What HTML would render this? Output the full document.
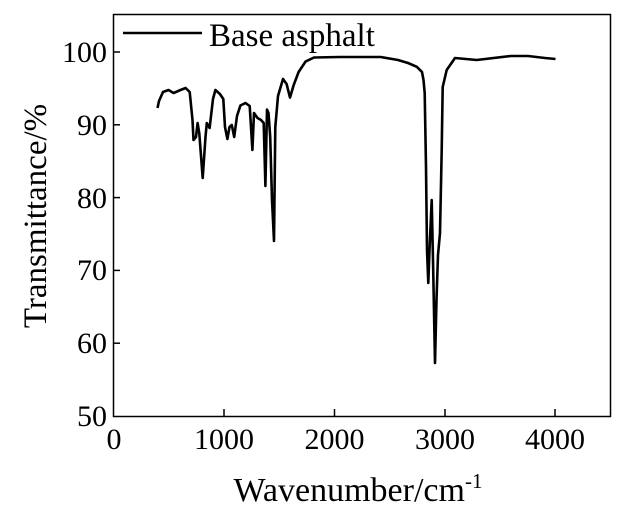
<!DOCTYPE html>
<html><head><style>body{margin:0;background:#fff}</style></head><body>
<svg width="637" height="516" viewBox="0 0 637 516" xmlns="http://www.w3.org/2000/svg" font-family="Liberation Serif, serif">
<rect x="113.5" y="14.5" width="497" height="402" fill="none" stroke="#000" stroke-width="1.5"/>
<g stroke="#000" stroke-width="1.5">
<line x1="224" y1="416" x2="224" y2="409"/><line x1="334.5" y1="416" x2="334.5" y2="409"/><line x1="445" y1="416" x2="445" y2="409"/><line x1="555" y1="416" x2="555" y2="409"/>
<line x1="113" y1="52" x2="120" y2="52"/><line x1="113" y1="124.8" x2="120" y2="124.8"/><line x1="113" y1="197.6" x2="120" y2="197.6"/><line x1="113" y1="270.4" x2="120" y2="270.4"/><line x1="113" y1="343.2" x2="120" y2="343.2"/>
</g>
<g font-size="30" text-anchor="end">
<text x="107" y="62">100</text><text x="107" y="135">90</text><text x="107" y="208">80</text><text x="107" y="280">70</text><text x="107" y="353">60</text><text x="107" y="426">50</text>
</g>
<g font-size="30" text-anchor="middle">
<text x="114" y="449">0</text><text x="224" y="449">1000</text><text x="334.5" y="449">2000</text><text x="445" y="449">3000</text><text x="555" y="449">4000</text>
</g>
<text x="358" y="501" font-size="34" text-anchor="middle">Wavenumber/cm<tspan font-size="21" dy="-13">-1</tspan></text>
<text transform="translate(46,216) rotate(-90)" font-size="33" text-anchor="middle">Transmittance/%</text>
<line x1="123" y1="33" x2="202" y2="33" stroke="#000" stroke-width="2.5"/>
<text x="209" y="46" font-size="33">Base asphalt</text>
<polyline fill="none" stroke="#000" stroke-width="2.6" stroke-linejoin="round" points="157.5,108 159,101 163,92 168.5,90 173.6,93 180.5,90 185.6,88 189.7,92 192.5,120 193.5,140 196,137 197.6,123 199.3,133.5 202.7,178 205.5,137 206.8,123 209.6,128 213,99 215.4,90 219.9,94 223.3,99 225,127 227.4,139 229.5,127 231.8,125 234.2,137 237,116 240.4,105.5 245.5,103 249.7,106 252.4,150 254,113 257.5,118 261,120 263.7,123 265.4,186 267,109.6 268.5,113 270.2,137 272,200 274,241 275.3,127 278,96 283,79 286.6,84 290,97.6 293.5,85.6 298.6,72 305.5,61.6 314,57.5 339.7,57 380.8,57 398,60 408,63 416.8,66.8 422,72 423.5,80 424.7,93 426,167 427,250 428.3,283 429.5,250 431.7,200 433,260 435,363 436.5,300 438,255 440,233 441.7,150 442.7,87 446.7,70 455,58 476.7,60 511,56 528,56 545,58 555.5,59"/>
</svg>
</body></html>
